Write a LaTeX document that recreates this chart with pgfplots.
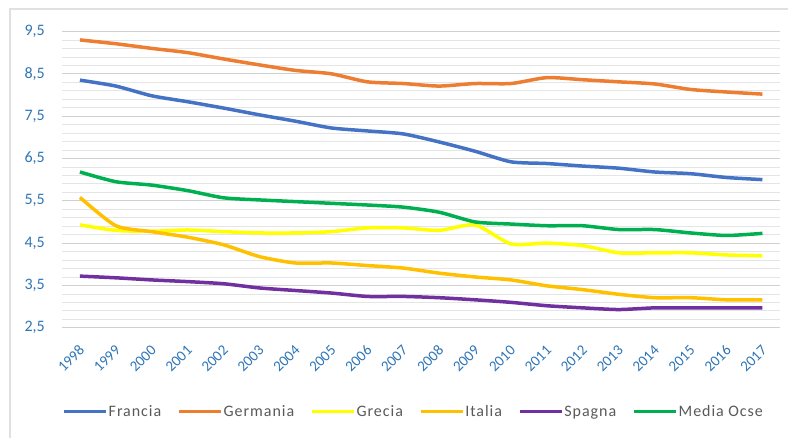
\documentclass[border=0pt]{standalone}
\usepackage{pgfplots}
\pgfplotsset{compat=1.18}
\usepackage{fontspec}
\setmainfont{Carlito}
\newfontfamily\legfont[LetterSpace=6]{Carlito}
\definecolor{cFr}{HTML}{4472C4}
\definecolor{cDe}{HTML}{ED7D31}
\definecolor{cGr}{HTML}{FFFF00}
\definecolor{cIt}{HTML}{FFC000}
\definecolor{cEs}{HTML}{7030A0}
\definecolor{cOc}{HTML}{00B050}
\definecolor{tickblue}{HTML}{2E75B6}
\definecolor{legtext}{HTML}{595959}
\begin{document}
\begin{tikzpicture}[x=1pt,y=1pt]
\path (0,0) rectangle (789,438);
\draw[color=black!12, line width=1.2pt] (10,0) -- (10,429) -- (789,429);
\begin{axis}[
  at={(62pt,110pt)}, anchor=south west,
  scale only axis, width=719pt, height=296.5pt,
  xmin=-0.5, xmax=19.5, ymin=2.5, ymax=9.5,
  xtick={0,...,19},
  xticklabels={1998,1999,2000,2001,2002,2003,2004,2005,2006,2007,2008,2009,2010,2011,2012,2013,2014,2015,2016,2017},
  ytick={2.5,3.5,...,9.5},
  minor y tick num=4,
  ymajorgrids, yminorgrids,
  major grid style={draw=black!18, line width=0.8pt},
  minor grid style={draw=black!10, line width=0.7pt},
  axis line style={draw=none},
  major tick length=0pt, minor tick length=0pt,
  /pgf/number format/.cd, use comma, fixed, fixed zerofill, precision=1, assume math mode=true,
  /pgfplots/.cd,
  yticklabel style={font=\fontsize{16}{18}\selectfont, text=tickblue, inner xsep=0pt, xshift=-17pt},
  xticklabel style={font=\fontsize{15}{17}\selectfont, text=tickblue, xshift=2pt, yshift=-20pt, rotate=45, anchor=east, inner sep=0pt},
  legend style={at={(-0.004,-0.283)}, anchor=west, draw=none, fill=none,
    font=\legfont\fontsize{16}{18}\selectfont, text=legtext, legend columns=6,
    nodes={inner xsep=1pt},
    /tikz/every even column/.append style={column sep=15pt}},
  legend image code/.code={\draw[#1, line width=3.5pt] (0pt,0pt) -- (42pt,0pt);},
  every axis plot/.append style={line width=3.5pt, smooth, tension=0.4},
]
\addplot[cFr] coordinates {(0,8.35)(1,8.21)(2,7.98)(3,7.84)(4,7.69)(5,7.53)(6,7.38)(7,7.22)(8,7.15)(9,7.08)(10,6.89)(11,6.67)(12,6.42)(13,6.38)(14,6.32)(15,6.27)(16,6.18)(17,6.14)(18,6.05)(19,6.00)};
\addlegendentry{Francia}
\addplot[cDe] coordinates {(0,9.30)(1,9.21)(2,9.10)(3,9.00)(4,8.85)(5,8.71)(6,8.58)(7,8.50)(8,8.31)(9,8.27)(10,8.21)(11,8.27)(12,8.27)(13,8.41)(14,8.36)(15,8.31)(16,8.26)(17,8.13)(18,8.07)(19,8.02)};
\addlegendentry{Germania}
\addplot[cGr] coordinates {(0,4.93)(1,4.80)(2,4.78)(3,4.81)(4,4.77)(5,4.74)(6,4.74)(7,4.77)(8,4.86)(9,4.86)(10,4.80)(11,4.93)(12,4.48)(13,4.50)(14,4.44)(15,4.27)(16,4.27)(17,4.27)(18,4.22)(19,4.20)};
\addlegendentry{Grecia}
\addplot[cIt] coordinates {(0,5.58)(1,4.91)(2,4.77)(3,4.64)(4,4.46)(5,4.18)(6,4.03)(7,4.03)(8,3.97)(9,3.91)(10,3.79)(11,3.70)(12,3.63)(13,3.49)(14,3.40)(15,3.29)(16,3.21)(17,3.21)(18,3.16)(19,3.16)};
\addlegendentry{Italia}
\addplot[cEs] coordinates {(0,3.72)(1,3.68)(2,3.63)(3,3.59)(4,3.54)(5,3.44)(6,3.38)(7,3.32)(8,3.24)(9,3.24)(10,3.21)(11,3.16)(12,3.10)(13,3.02)(14,2.97)(15,2.93)(16,2.97)(17,2.97)(18,2.97)(19,2.97)};
\addlegendentry{Spagna}
\addplot[cOc] coordinates {(0,6.18)(1,5.95)(2,5.87)(3,5.74)(4,5.57)(5,5.52)(6,5.48)(7,5.44)(8,5.40)(9,5.35)(10,5.23)(11,5.00)(12,4.95)(13,4.91)(14,4.91)(15,4.82)(16,4.82)(17,4.74)(18,4.68)(19,4.73)};
\addlegendentry{Media Ocse}
\end{axis}
\end{tikzpicture}
\end{document}
